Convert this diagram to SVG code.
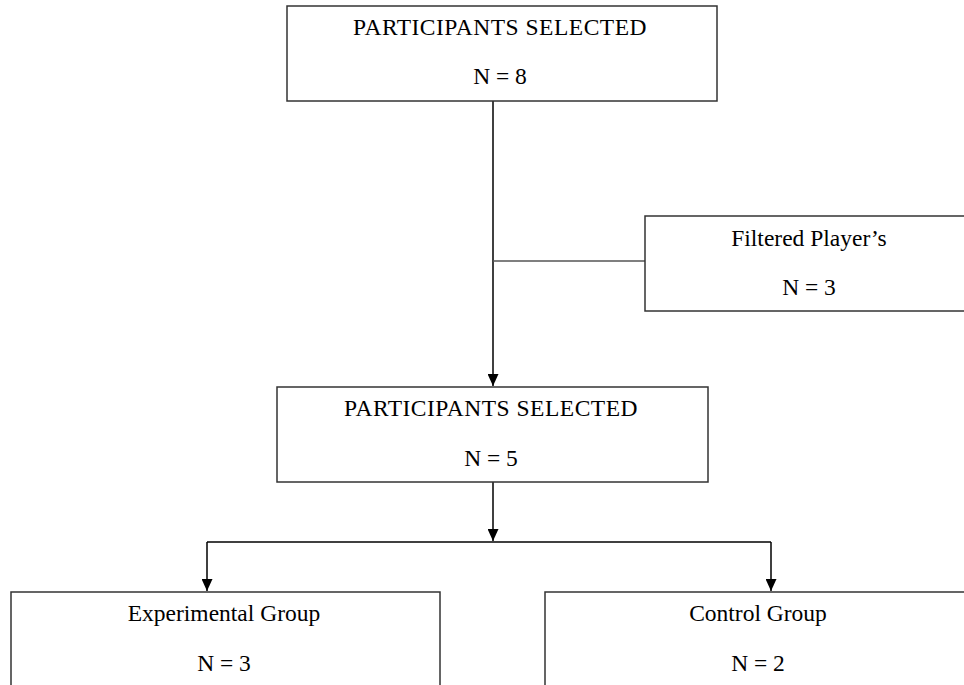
<svg xmlns="http://www.w3.org/2000/svg" width="964" height="685" viewBox="0 0 964 685">
<defs>
<marker id="arr" markerWidth="12" markerHeight="11" refX="12" refY="5.5" orient="auto" markerUnits="userSpaceOnUse" viewBox="0 0 12 11">
<path d="M0,0 L12,5.5 L0,11 Z" fill="#000"/>
</marker>
</defs>
<style>
.box{fill:#fff;stroke:#333;stroke-width:1.5}
.t{font-family:"Liberation Serif","Times New Roman",serif;font-size:23.5px;fill:#000;text-anchor:middle}
.caps{letter-spacing:0.5px}
.c{stroke:#000;stroke-width:1.5;fill:none}
</style>
<rect width="964" height="685" fill="#fff"/>
<g id="connectors">
<line class="c" x1="493" y1="101" x2="493" y2="386" marker-end="url(#arr)"/>
<line x1="493" y1="261" x2="645" y2="261" stroke="#555" stroke-width="1.5"/>
<line class="c" x1="493" y1="482" x2="493" y2="541" marker-end="url(#arr)"/>
<polyline class="c" points="207,542 771,542"/>
<line class="c" x1="207" y1="542" x2="207" y2="591" marker-end="url(#arr)"/>
<line class="c" x1="771" y1="542" x2="771" y2="591" marker-end="url(#arr)"/>
</g>
<g id="node1">
<rect class="box" x="287" y="6" width="430" height="95"/>
<text class="t caps" x="500" y="35">PARTICIPANTS SELECTED</text>
<text class="t" x="500" y="84">N = 8</text>
</g>
<g id="node2">
<rect class="box" x="645" y="216" width="325" height="95"/>
<text class="t" x="809" y="246">Filtered Player’s</text>
<text class="t" x="809" y="295">N = 3</text>
</g>
<g id="node3">
<rect class="box" x="277" y="387" width="431" height="95"/>
<text class="t caps" x="491" y="416">PARTICIPANTS SELECTED</text>
<text class="t" x="491" y="466">N = 5</text>
</g>
<g id="node4">
<rect class="box" x="11" y="592" width="429" height="100"/>
<text class="t" x="224" y="621">Experimental Group</text>
<text class="t" x="224" y="671">N = 3</text>
</g>
<g id="node5">
<rect class="box" x="545" y="592" width="425" height="100"/>
<text class="t" x="758" y="621">Control Group</text>
<text class="t" x="758" y="671">N = 2</text>
</g>
</svg>
